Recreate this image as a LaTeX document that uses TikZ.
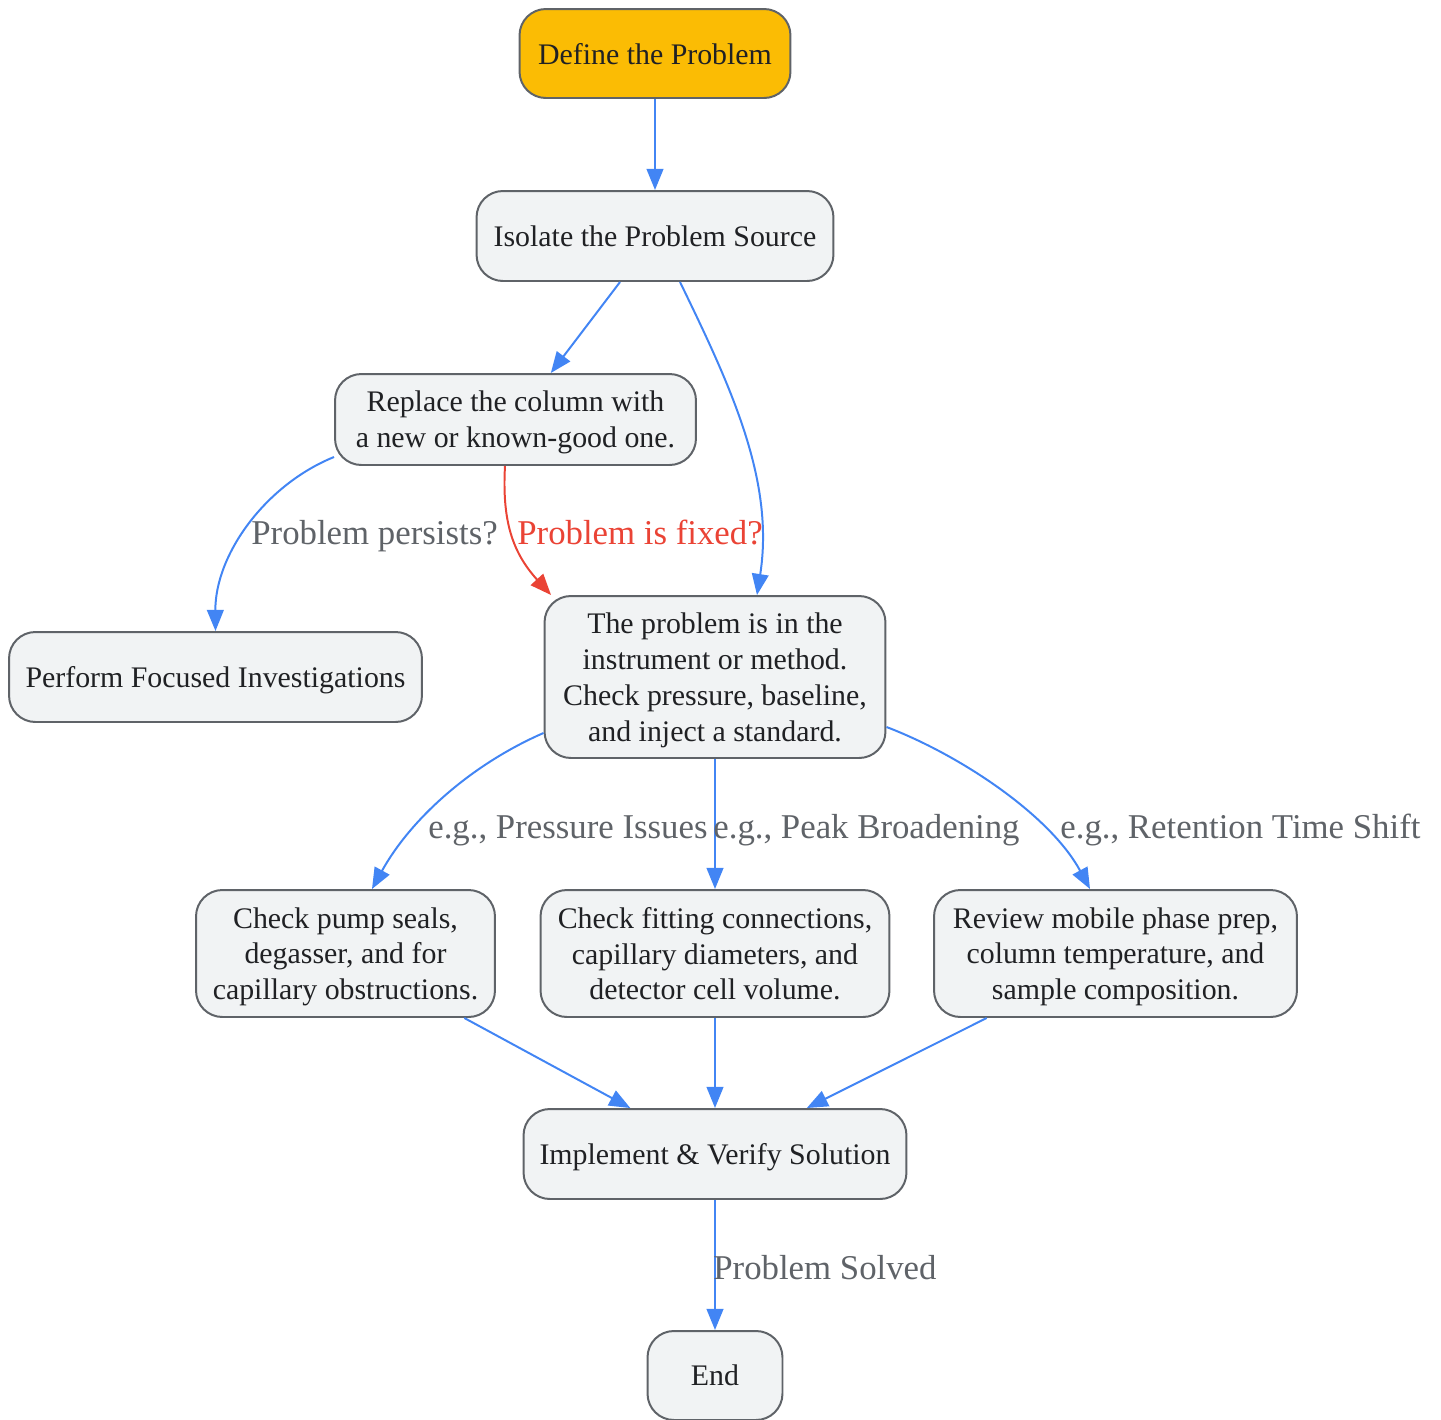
\documentclass[tikz,border=0pt]{standalone}
\usepackage{fontspec}
\setmainfont{Liberation Serif}
\usetikzlibrary{arrows.meta,positioning}
\definecolor{flowblue}{HTML}{4285F4}
\definecolor{flowred}{HTML}{EA4335}
\definecolor{boxgray}{HTML}{F1F3F4}
\definecolor{edgegray}{HTML}{5F6368}
\definecolor{startyellow}{HTML}{FBBC04}
\definecolor{txtdark}{HTML}{202124}

\begin{document}
\begin{tikzpicture}[
	x=0.02cm, y=-0.02cm,
	box/.style={
		draw=edgegray,
		line width=1.13pt,
		fill=boxgray,
		rounded corners=15pt,
		align=center,
		text=txtdark,
		inner sep=0pt,
		text depth=0pt,
		font=\fontsize{17}{20.4}\selectfont
	},
	startbox/.style={
		box,
		fill=startyellow
	},
	flow/.style={
		draw=flowblue,
		line width=1.13pt,
		-{Triangle[length=12pt,width=9.5pt]}
	},
	redflow/.style={
		flow,
		draw=flowred
	},
	lbl/.style={
		anchor=base west,
		inner sep=0pt,
		text=edgegray,
		font=\fontsize{19.8}{23}\selectfont
	}
	]
	\useasboundingbox (0,0) rectangle (1441,1420);

	\node[startbox, minimum width=5.42cm, minimum height=1.78cm] at (655,53.5)
	(define) {Define the Problem};

	\node[box, minimum width=7.14cm, minimum height=1.8cm] at (655,236)
	(isolate) {Isolate the Problem Source};

	\node[box, minimum width=7.22cm, minimum height=1.82cm] at (515.5,419.5)
	(replace) {Replace the column with\\a new or known-good one.};

	\node[box, minimum width=8.26cm, minimum height=1.8cm] at (215.5,677)
	(perform) {Perform Focused Investigations};

	\node[box, minimum width=6.82cm, minimum height=3.24cm] at (715,677)
	(instrument) {The problem is in the\\instrument or method.\\Check pressure, baseline,\\and inject a standard.};

	\node[box, minimum width=5.98cm, minimum height=2.54cm] at (345.5,953.5)
	(pump) {Check pump seals,\\degasser, and for\\capillary obstructions.};

	\node[box, minimum width=6.98cm, minimum height=2.54cm] at (715,953.5)
	(fitting) {Check fitting connections,\\capillary diameters, and\\detector cell volume.};

	\node[box, minimum width=7.26cm, minimum height=2.54cm] at (1115.5,953.5)
	(review) {Review mobile phase prep,\\column temperature, and\\sample composition.};

	\node[box, minimum width=7.66cm, minimum height=1.8cm] at (715,1154)
	(implement) {Implement \& Verify Solution};

	\node[box, minimum width=2.7cm, minimum height=1.78cm] at (715,1375.5)
	(finish) {End};

	% connectors
	\draw[flow] (define) -- (isolate);
	\draw[flow] (isolate) -- (replace);
	\draw[flow] ([xshift=0.5cm]isolate.south) .. controls (730,385) and (775,480) .. ([xshift=0.84cm]instrument.north);
	\draw[flow] ([yshift=-0.75cm]replace.west) .. controls (265,485) and (215,555) .. (perform.north);
	\draw[redflow] ([xshift=-0.21cm]replace.south) .. controls (502,520) and (512,552) .. ([xshift=0.15cm]instrument.north west);

	\draw[flow] ([yshift=-1.12cm]instrument.west) .. controls (470,765) and (410,820) .. ([xshift=0.53cm]pump.north);
	\draw[flow] (instrument) -- (fitting);
	\draw[flow] ([yshift=-1.0cm]instrument.east) .. controls (960,755) and (1050,815) .. ([xshift=-0.51cm]review.north);

	\draw[flow] (pump) -- (implement);
	\draw[flow] (fitting) -- (implement);
	\draw[flow] (review) -- (implement);
	\draw[flow] (implement) -- (finish);

	% labels
	\node[lbl] at (251,544) (persists) {Problem persists?};
	\node[lbl, text=flowred] at (517,544) (fixed) {Problem is fixed?};
	\node[lbl] at (428,838) (pressure) {e.g., Pressure Issues};
	\node[lbl] at (713,838) (broadening) {e.g., Peak Broadening};
	\node[lbl] at (1060,838) (retention) {e.g., Retention Time Shift};
	\node[lbl] at (713,1279) (solved) {Problem Solved};

\end{tikzpicture}
\end{document}
